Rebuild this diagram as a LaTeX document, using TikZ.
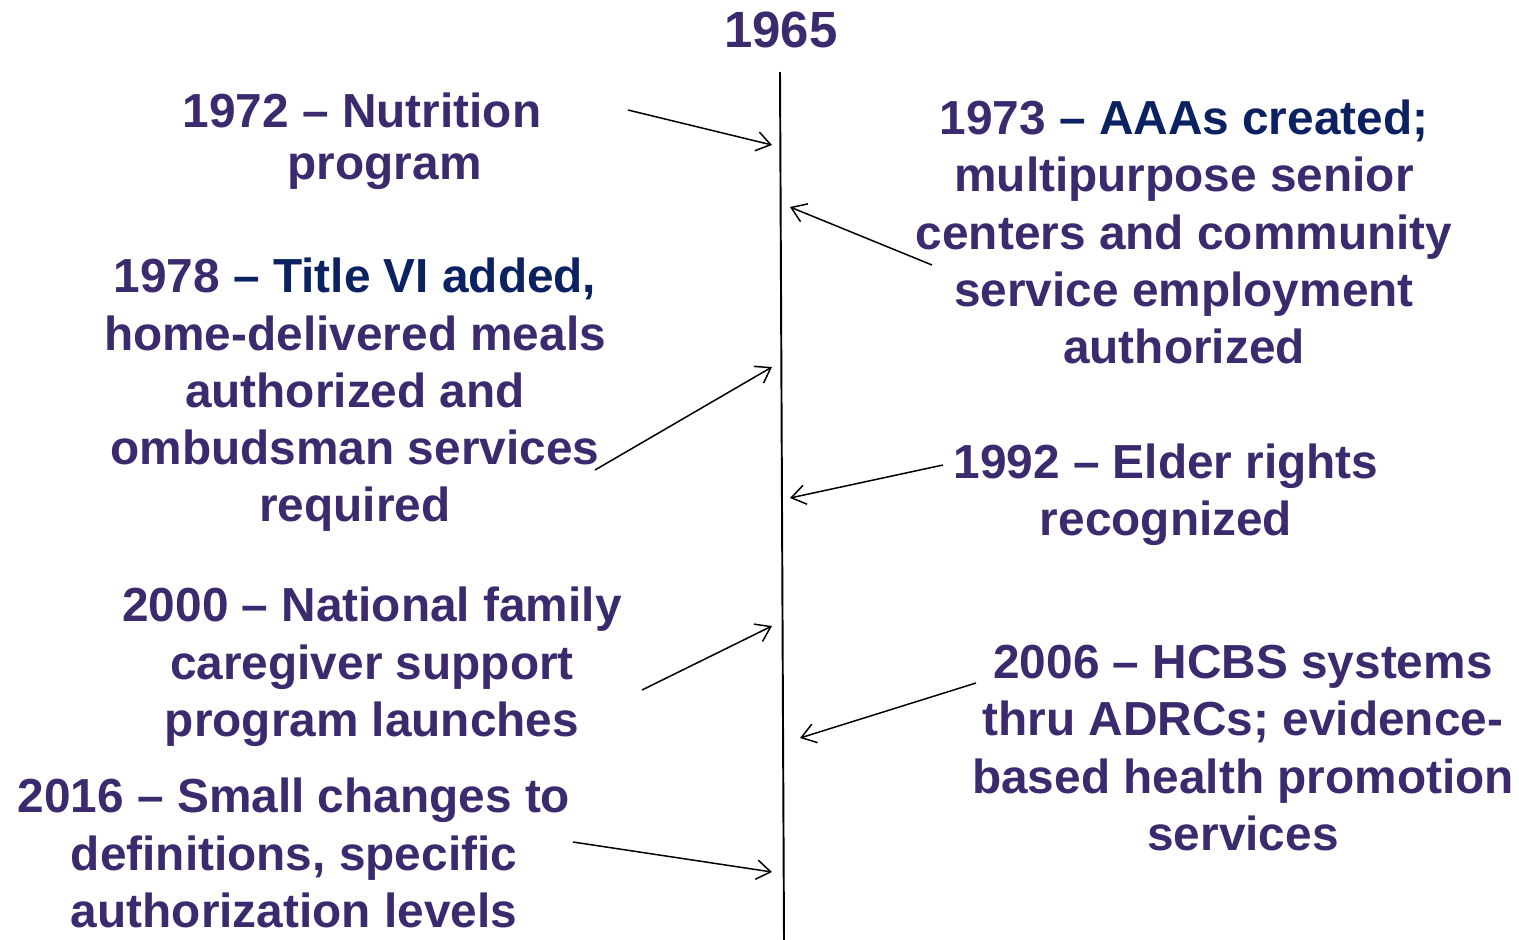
\documentclass[tikz,border=0pt]{standalone}
\usepackage{fontspec}
\setmainfont{Liberation Sans}
\usetikzlibrary{arrows.meta}
\definecolor{aoapurple}{HTML}{3C2A6E}
\definecolor{aoanavy}{HTML}{0B2161}
\tikzset{%
    evt/.style={align=center, inner sep=0pt, text=aoapurple, font=\bfseries\fontsize{27.2}{32.6}\selectfont},
    yr/.style={inner sep=0pt, text=aoapurple, font=\bfseries\fontsize{29}{34}\selectfont},
    tl/.style={line width=1.1pt},
    arr/.style={line width=0.85pt, -{Straight Barb[length=8pt,width=11pt]}},
}
\begin{document}
\begin{tikzpicture}[x=0.02cm, y=-0.02cm]
    \useasboundingbox (0,0) rectangle (1519,940);
    % timeline
    \node [yr] (start) at (781,30) {1965};
    \coordinate (top) at (780,72);
    \coordinate (bot) at (784,940);
    \draw [tl] (top) -- (bot);
    % events
    \node [evt] (e72) at (362,141) {1972 -- Nutrition\\[-3pt]\hspace*{0.95em}program};
    \node [evt] (e73) at (1184,232) {1973 \textcolor{aoanavy}{-- AAAs created;}\\multipurpose senior\\centers and community\\service employment\\authorized};
    \node [evt] (e78) at (355,395) {1978 \textcolor{aoanavy}{-- Title VI added,}\\home-delivered meals\\authorized and\\ombudsman services\\required};
    \node [evt] (e92) at (1166,495) {1992 -- Elder rights\\recognized};
    \node [evt] (e00) at (372,667) {2000 -- National family\\caregiver support\\program launches};
    \node [evt] (e06) at (1243,748) {2006 -- HCBS systems\\thru ADRCs; evidence-\\based health promotion\\services};
    \node [evt] (e16) at (294,853) {2016 -- Small changes to\\definitions, specific\\authorization levels};
    % arrow ends
    \coordinate (s72) at (628,110);  \coordinate (t72) at (772,145);
    \coordinate (s73) at (932,265);  \coordinate (t73) at (790,207);
    \coordinate (s78) at (595,470);  \coordinate (t78) at (772,367);
    \coordinate (s92) at (943,465);  \coordinate (t92) at (790,498);
    \coordinate (s00) at (642,690);  \coordinate (t00) at (772,626);
    \coordinate (s06) at (976,683);  \coordinate (t06) at (800,738);
    \coordinate (s16) at (573,842);  \coordinate (t16) at (772,872);
    \foreach \k in {72,73,78,92,00,06,16}
        \draw [arr] (s\k) -- (t\k);
\end{tikzpicture}
\end{document}
